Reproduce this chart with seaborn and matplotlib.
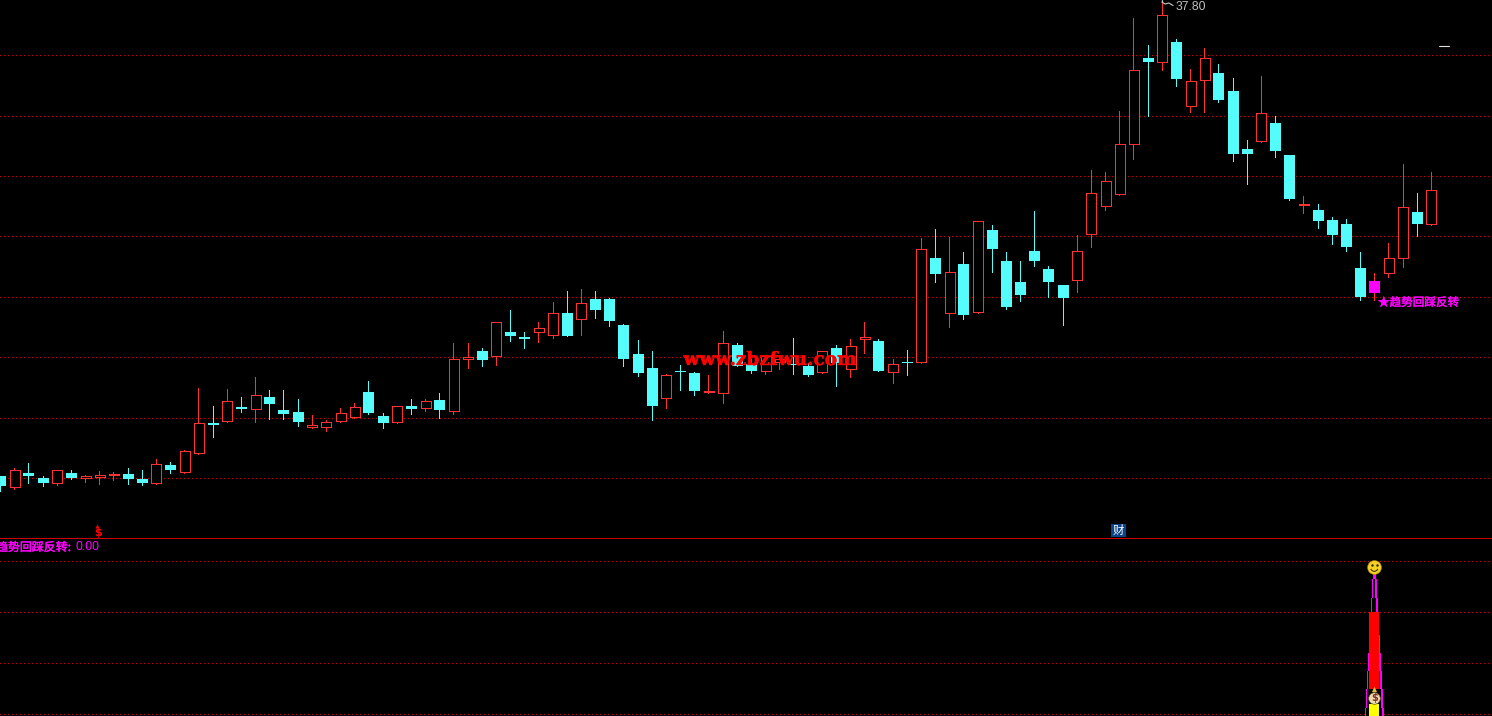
import matplotlib
matplotlib.use('Agg')
import matplotlib.pyplot as plt
import matplotlib.path as mpath
import matplotlib.patheffects as pe
import numpy as np
import pandas as pd
import seaborn as sns

W, H = 1492, 716
DIVIDER = 538.5

opens = [18.84, 18.38, 18.96, 18.76, 18.54, 18.96, 18.76, 18.78, 18.86, 18.92,
         18.72, 18.54, 19.28, 18.98, 19.74, 20.96, 21.02, 21.60, 21.50, 22.00,
         21.48, 21.40, 20.80, 20.78, 21.02, 21.18, 22.20, 21.24, 20.98, 21.64,
         21.54, 21.88, 21.42, 23.50, 23.84, 23.62, 24.60, 24.40, 24.58, 24.46,
         25.36, 25.10, 25.92, 25.92, 24.88, 23.72, 23.16, 21.94, 23.04, 22.96,
         22.20, 22.14, 24.08, 23.32, 23.02, 23.40, 23.32, 23.24, 22.98, 23.96,
         23.10, 24.30, 24.24, 22.98, 23.40, 23.38, 27.56, 25.34, 27.32, 25.38,
         28.68, 27.44, 26.60, 27.84, 27.12, 26.48, 26.66, 28.50, 29.62, 30.10,
         32.10, 35.56, 35.38, 36.20, 33.62, 34.66, 34.96, 34.24, 31.92, 32.22,
         32.96, 31.68, 29.68, 29.48, 29.08, 28.92, 27.16, 26.64, 26.94, 27.54,
         29.40, 28.90]
closes = [18.44, 19.06, 18.84, 18.56, 19.06, 18.76, 18.84, 18.86, 18.90, 18.72,
          18.56, 19.30, 19.08, 19.82, 20.94, 20.88, 21.82, 21.52, 22.06, 21.72,
          21.32, 21.00, 20.88, 20.98, 21.34, 21.58, 21.36, 20.96, 21.62, 21.52,
          21.82, 21.48, 23.50, 23.58, 23.48, 24.98, 24.44, 24.32, 24.74, 25.34,
          24.44, 25.74, 25.48, 25.04, 23.52, 22.96, 21.64, 22.86, 23.00, 22.24,
          22.24, 24.14, 23.24, 23.04, 23.60, 23.50, 23.28, 22.88, 23.82, 23.36,
          24.02, 24.38, 23.04, 23.30, 23.36, 27.90, 26.92, 26.98, 25.28, 29.02,
          27.92, 25.60, 26.08, 27.44, 26.60, 25.96, 27.82, 30.14, 30.62, 32.10,
          35.06, 35.40, 37.26, 34.72, 34.62, 35.54, 33.88, 31.72, 31.72, 33.34,
          31.84, 29.92, 29.72, 29.04, 28.48, 28.00, 26.00, 26.16, 27.54, 29.58,
          28.92, 30.26]
highs = [18.84, 19.16, 19.36, 18.84, 19.06, 19.08, 18.88, 19.04, 19.00, 19.16,
         19.08, 19.52, 19.40, 19.88, 22.36, 21.64, 22.32, 22.00, 22.80, 22.28,
         22.28, 21.92, 21.28, 21.08, 21.56, 21.76, 22.64, 21.36, 21.62, 21.92,
         21.92, 22.16, 24.16, 24.16, 23.96, 24.98, 25.48, 24.60, 25.00, 25.80,
         26.24, 26.32, 26.24, 25.96, 24.92, 24.28, 23.84, 22.92, 23.28, 23.00,
         22.88, 24.64, 24.16, 23.52, 23.68, 23.68, 24.36, 23.36, 23.82, 24.08,
         24.32, 25.00, 24.32, 23.52, 23.88, 28.36, 28.72, 28.40, 27.80, 29.02,
         28.88, 27.80, 27.44, 29.44, 27.24, 26.48, 28.48, 31.08, 31.00, 33.44,
         37.16, 36.08, 37.80, 36.32, 35.12, 35.96, 35.32, 34.76, 32.28, 34.84,
         33.24, 31.68, 30.04, 29.72, 29.20, 29.12, 27.80, 26.96, 28.16, 31.32,
         30.16, 31.00]
lows = [18.24, 18.32, 18.56, 18.44, 18.48, 18.72, 18.60, 18.52, 18.68, 18.52,
        18.48, 18.54, 18.96, 18.98, 19.74, 20.40, 21.02, 21.40, 21.00, 21.12,
        21.12, 20.84, 20.76, 20.64, 21.02, 21.18, 21.32, 20.76, 20.98, 21.32,
        21.44, 21.16, 21.32, 23.16, 23.24, 23.28, 24.24, 23.96, 24.20, 24.36,
        24.44, 24.48, 25.16, 24.84, 23.24, 22.84, 21.08, 21.56, 22.28, 22.08,
        22.16, 21.76, 23.24, 22.96, 22.92, 23.12, 22.92, 22.84, 22.98, 22.44,
        22.80, 23.76, 23.04, 22.56, 22.88, 23.38, 26.60, 24.80, 25.12, 25.38,
        27.00, 25.52, 25.84, 27.24, 26.00, 24.88, 26.20, 28.00, 29.48, 30.10,
        31.52, 33.24, 35.08, 34.44, 33.40, 33.40, 33.80, 31.44, 30.52, 32.22,
        31.60, 29.88, 29.36, 28.76, 28.12, 27.84, 25.88, 25.88, 26.80, 27.20,
        28.44, 28.90]
price_grid = [35.68, 33.24, 30.84, 28.44, 26.00, 23.60, 21.16, 18.76]

signal_bar = 97
high_bar = 82
# indicator spike, stepped from its tip down to the axis
spike_levels = [2.65, 2.28, 2.00, 1.55, 1.20, 0.84, 0.49, 0.12, -0.03]
red_top, red_bottom, yellow_top = 2.00, 0.49, 0.20
indicator_grid = [3, 2, 1, 0]

RED = '#ff3232'
CYAN = '#54fcfc'
MAGENTA = '#ff00ff'
GRID = '#c80000'
LABEL_FONT = ['Noto Sans CJK SC', 'DejaVu Sans']

sns.set_theme(style='dark', rc={'figure.facecolor': 'black', 'axes.facecolor': 'black',
                                'savefig.facecolor': 'black'})
plt.rcParams['font.family'] = LABEL_FONT

df = pd.DataFrame({'open': opens, 'close': closes, 'high': highs, 'low': lows})
df['bar'] = np.arange(len(df))
df['up'] = df['close'] > df['open']
df['wick'] = np.where(df['up'] | (df['bar'] == signal_bar), 'red', 'cyan')

wicks = df.melt(id_vars=['bar', 'wick'], value_vars=['high', 'low'], value_name='price')

fig = plt.figure(figsize=(W / 100, H / 100), dpi=100)
ax = fig.add_axes([0, 1 - DIVIDER / H, 1, DIVIDER / H])
low_ax = fig.add_axes([0, 0, 1, 1 - DIVIDER / H])

PX = 1 / 14.168   # one pixel in bar units
PRICE_PX = 0.04   # one pixel in price units
xlim = (0, W * PX)


def style_axes(a, ticks):
    a.set_xlim(*xlim)
    a.set_xticks([])
    a.set_yticks(ticks)
    a.tick_params(left=False, labelleft=False)
    a.grid(True, axis='y', color=GRID, linewidth=0.72, linestyle=(0, (1, 3)), antialiased=False)
    a.set_axisbelow(True)
    a.set_xlabel('')
    a.set_ylabel('')
    for s in a.spines.values():
        s.set_visible(False)


sns.lineplot(data=wicks, x='bar', y='price', hue='wick', units='bar', estimator=None,
             sort=False, palette={'red': RED, 'cyan': CYAN}, linewidth=0.72,
             antialiased=False, legend=False, ax=ax, zorder=2)

up = df[df['up']]
down = df[~df['up'] & (df['bar'] != signal_bar)]
sig = df[df['bar'] == signal_bar]
# bodies sit half a pixel right of the snapped wicks
ax.bar(up['bar'] + 0.5 * PX, up['close'] - up['open'], bottom=up['open'] + 0.5 * PRICE_PX, width=10 * PX,
       facecolor='black', edgecolor=RED, linewidth=0.72, antialiased=False, zorder=3)
ax.bar(down['bar'] + 0.5 * PX, down['open'] - down['close'], bottom=down['close'], width=11 * PX,
       color=CYAN, linewidth=0, antialiased=False, zorder=3)
ax.bar(sig['bar'] + 0.5 * PX, sig['open'] - sig['close'], bottom=sig['close'], width=11 * PX,
       color=MAGENTA, linewidth=0, antialiased=False, zorder=3)

ax.set_ylim(37.88 - PRICE_PX * DIVIDER, 37.88)
style_axes(ax, price_grid)
ax.axhline(16.36, color='#d00000', linewidth=0.72, antialiased=False, zorder=5)

# highest price tag and the small mark at the top right
ax.plot([high_bar, high_bar + 0.25, high_bar + 0.5, high_bar + 0.8],
        [highs[high_bar], 37.72, 37.76, 37.66], color='#c8c8c8', linewidth=0.8, zorder=4)
ax.plot([high_bar, high_bar], [37.80, 37.88], color='#c8c8c8', linewidth=0.8, zorder=4)
ax.plot([101.6, 102.3], [36.04, 36.04], color='#e0e0e0', linewidth=0.8, zorder=4)
ax.scatter([6.85], [16.84], marker='^', s=9, color='#ff0000', linewidth=0, zorder=4)

# bottom indicator
low_ax.set_ylim(-(716 - 714) / 51, (714 - DIVIDER) / 51)
style_axes(low_ax, indicator_grid)

for k in range(len(spike_levels) - 1):
    top, bottom = spike_levels[k], spike_levels[k + 1]
    width = (5 + 2 * k) * PX
    low_ax.bar(signal_bar, top - bottom, bottom=bottom, width=width, color=MAGENTA,
               linewidth=0, zorder=2)
    low_ax.bar(signal_bar, top - bottom, bottom=bottom, width=width - 2.8 * PX, color='black',
               linewidth=0, zorder=3)
low_ax.bar(signal_bar, red_top - red_bottom, bottom=red_bottom, width=9.6 * PX, color='#ff0000',
           linewidth=0, zorder=4)
low_ax.bar(signal_bar, yellow_top - spike_levels[-1], bottom=spike_levels[-1], width=9.6 * PX,
           color='#ffff00', linewidth=0, zorder=4)
low_ax.bar(signal_bar, 0.1, bottom=spike_levels[0], width=2.6 * PX, color=MAGENTA,
           linewidth=0, zorder=4)

# smiley on the tip
smile_y = spike_levels[0] + 0.24
low_ax.scatter([signal_bar], [smile_y], s=100, color='#f5d020', edgecolor='#a07c10',
               linewidth=0.4, zorder=6)
low_ax.scatter([signal_bar - 0.17, signal_bar + 0.17], [smile_y + 0.03] * 2, s=3,
               color='#222200', linewidth=0, zorder=7)
low_ax.scatter([signal_bar], [smile_y - 0.02], s=28, marker=mpath.Path.arc(200, 340),
               facecolor='none', edgecolor='#222200', linewidth=0.7, zorder=7)

# money bag at the foot
bag_y = 0.32
low_ax.scatter([signal_bar], [bag_y], s=70, color='#eadcb0', edgecolor='#6a5a20',
               linewidth=0.5, zorder=6)
low_ax.scatter([signal_bar], [bag_y + 0.17], s=14, marker='^', color='#e0c040',
               linewidth=0, zorder=6)
low_ax.text(signal_bar, bag_y, '$', color='#8a2c2c', fontsize=7, fontweight='bold',
            ha='center', va='center', family='DejaVu Sans', zorder=7)


def px_text(x, y, s, **kw):
    return fig.text(x / W, 1 - y / H, s, **kw)


firm = [pe.withStroke(linewidth=0.3, foreground=MAGENTA)]
px_text(-4, 547.5, '趋势回踩反转:', color=MAGENTA, fontsize=8.6, va='center', ha='left', path_effects=firm)
px_text(75, 547.5, '0.00', color=MAGENTA, fontsize=8.7, va='center', ha='left', family='Liberation Sans')
px_text(1378, 302.5, '★趋势回踩反转', color=MAGENTA, fontsize=8.35, va='center', ha='left', path_effects=firm)
px_text(1176, 7, '37.80', color='#c0c0c0', fontsize=8.7, va='center', ha='left', family='Liberation Sans')
px_text(98, 533, '$', color='#ff0000', fontsize=8, fontweight='bold', va='center', ha='center',
        family='DejaVu Sans')
px_text(1118.5, 530.5, '财', color='white', fontsize=8.2, va='center', ha='center',
        bbox=dict(facecolor='#0b4488', edgecolor='none', pad=1))
px_text(770.5, 365, 'www.zbzfwu.com', color='#ff0000', fontsize=13.3, fontweight='bold',
        va='baseline', ha='center', family='DejaVu Serif', zorder=10,
        path_effects=[pe.withStroke(linewidth=0.3, foreground='#ff0000')])

fig.savefig('out.png', dpi=100, facecolor='black')
